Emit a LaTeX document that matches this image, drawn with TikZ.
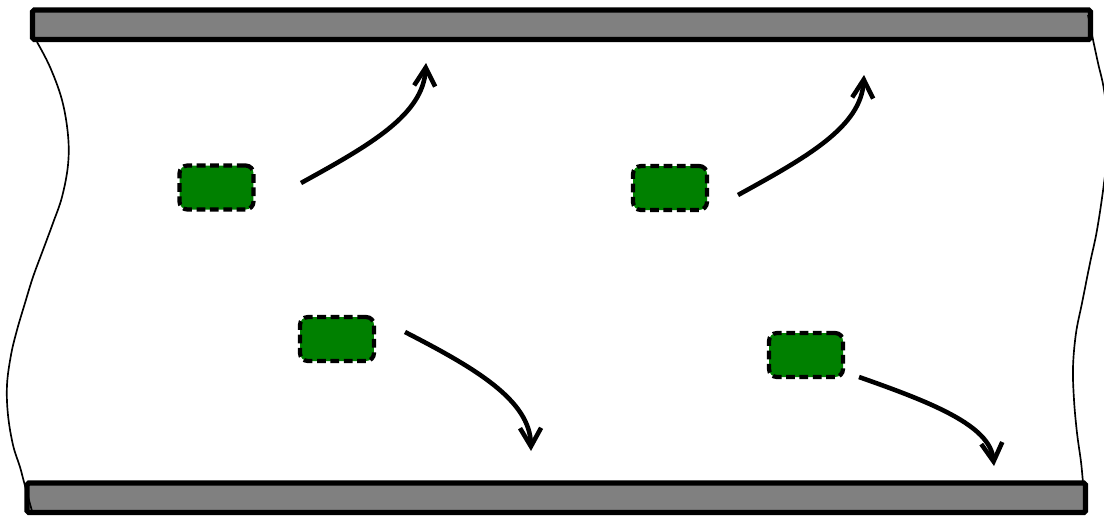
\documentclass[tikz,border=0pt]{standalone}
\usetikzlibrary{arrows.meta}
\definecolor{boxgreen}{RGB}{0,128,0}
\definecolor{bargray}{RGB}{128,128,128}
\begin{document}
\begin{tikzpicture}[x=0.02cm,y=-0.02cm,
  wall/.style={draw=black,fill=bargray,line width=3pt,rounded corners=1pt},
  particle/.style={draw=black,fill=boxgreen,line width=2.4pt,dash pattern=on 5pt off 2.6pt,
    rounded corners=4.5pt,minimum width=1.48cm,minimum height=0.88cm,inner sep=0pt},
  boundary/.style={line width=0.95pt},
  flow/.style={line width=2.6pt,-{Straight Barb[length=10.5pt,width=12pt]}}]
\useasboundingbox (0,0) rectangle (1104,515);
% walls
\draw[wall] (32.5,10) rectangle (1090.5,39.5);
\draw[wall] (27,483) rectangle (1085.5,512.5);
% side boundaries
\draw[boundary] plot[smooth,tension=0.6] coordinates {(37,42) (50,67) (62,100) (68,135) (68,165) (62,197) (53,223) (43,250) (33,277) (25,303) (17,330) (11,355) (7,385) (8,415) (13,445) (20,467) (24,482) (32,511)};
\draw[boundary] plot[smooth,tension=0.6] coordinates {(1088,15) (1092,35) (1098,63) (1104,90) (1109,135) (1104,183) (1097,230) (1090,263) (1082,303) (1076,333) (1073,367) (1074,400) (1077,433) (1081,462) (1083,483)};
% particles
\node[particle] (p1) at (216.5,187.5) {};
\node[particle] (p2) at (670,188) {};
\node[particle] (p3) at (337,339) {};
\node[particle] (p4) at (806,355) {};
% flow arrows
\coordinate (a1s) at (301,183);
\coordinate (a1e) at (426,63);
\coordinate (a2s) at (738,195);
\coordinate (a2e) at (864,75);
\coordinate (a3s) at (405,332);
\coordinate (a3e) at (531,451);
\coordinate (a4s) at (859,377);
\coordinate (a4e) at (994,466);
\draw[flow] (a1s) .. controls ++(69,-38) and ++(-3,52) .. (a1e);
\draw[flow] (a2s) .. controls ++(69,-38) and ++(-3,52) .. (a2e);
\draw[flow] (a3s) .. controls ++(70,36) and ++(-1,-51) .. (a3e);
\draw[flow] (a4s) .. controls ++(71,25) and ++(-4,-41) .. (a4e);
\end{tikzpicture}
\end{document}
